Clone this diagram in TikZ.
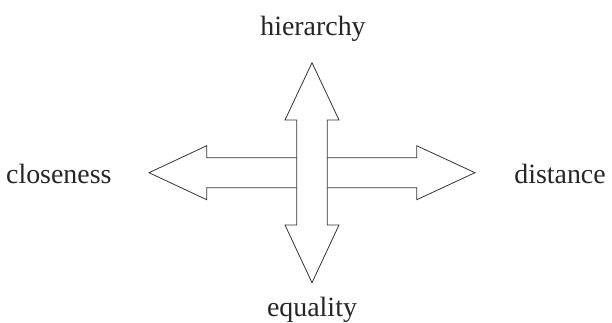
\documentclass[tikz,border=0pt]{standalone}
\usepackage{fontspec}
\setmainfont{Liberation Serif}
\begin{document}
\begin{tikzpicture}[x=1bp,y=-1bp,
  arrowshape/.style={draw=black!80, line width=0.8pt, fill=white, line join=miter},
  lab/.style={anchor=base, inner sep=0pt, text=black!85, font=\fontsize{28}{30}\selectfont}]
\useasboundingbox (0,0) rectangle (612,322);
% horizontal double arrow
\draw[arrowshape] (149,172.7) -- (206.7,145.7) -- (206.7,157.7) -- (416.7,157.7) -- (416.7,145.7)
  -- (475,172.7) -- (416.7,199.7) -- (416.7,187.7) -- (206.7,187.7) -- (206.7,199.7) -- cycle;
% vertical double arrow
\draw[arrowshape] (312,62.7) -- (339,120) -- (327.3,120) -- (327.3,225) -- (339,225)
  -- (312,282.7) -- (285,225) -- (296.7,225) -- (296.7,120) -- (285,120) -- cycle;
\node[lab] (hier) at (313,35) {hierarchy};
\node[lab] (equal) at (312,316) {equality};
\node[lab] (close) at (58.8,183.3) {closeness};
\node[lab] (dist) at (560,183.3) {distance};
\end{tikzpicture}
\end{document}
